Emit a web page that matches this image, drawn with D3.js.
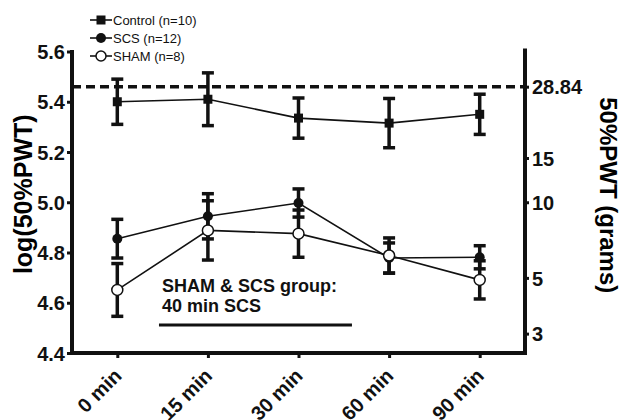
<!DOCTYPE html>
<html lang="en">

<head>
    <meta charset="UTF-8">
    <title>log(50%PWT) over time</title>
    <script src="https://cdn.jsdelivr.net/npm/d3@7"></script>
    <style>
        body {
            margin: 0;
            background: #fff;
        }

        svg {
            display: block;
            font-family: Arial, "Liberation Sans", sans-serif;
        }

        .axis text {
            font-size: 20px;
            font-weight: bold;
            fill: #111;
        }

        .axis path,
        .axis line {
            stroke: #111;
        }
    </style>
</head>

<body>
    <script>
        // data
        const times = ["0 min", "15 min", "30 min", "60 min", "90 min"];
        const control = [5.40, 5.41, 5.335, 5.315, 5.35];
        const controlErr = [0.09, 0.105, 0.08, 0.098, 0.08];
        const scs = [4.855, 4.944, 4.997, 4.778, 4.781];
        const scsErr = [0.077, 0.09, 0.056, 0.06, 0.046];
        const sham = [4.651, 4.888, 4.875, 4.788, 4.691];
        const shamErr = [0.105, 0.118, 0.094, 0.07, 0.076];
        const leftTicks = [4.4, 4.6, 4.8, 5.0, 5.2, 5.4, 5.6];
        const rightTicks = [3, 5, 10, 15, 28.84];
        const baseline = 28.84; // grams, dashed line
        const legendLabels = ["Control (n=10)", "SCS (n=12)", "SHAM (n=8)"];

        const width = 623, height = 420;
        const margin = { top: 51.5, right: 98, bottom: 67, left: 72 };

        const svg = d3.select("body")
            .append("svg")
            .attr("width", width)
            .attr("height", height);

        const xscale = d3.scalePoint()
            .domain(times)
            .range([margin.left, width - margin.right])
            .padding(0.5);

        const yscale = d3.scaleLinear()
            .domain([4.4, 5.6])
            .range([height - margin.bottom, margin.top]);

        // right axis is grams; left is log10(grams) + 4
        const yright = d3.scaleLog()
            .domain([Math.pow(10, 0.4), Math.pow(10, 1.6)])
            .range([height - margin.bottom, margin.top]);

        // fractional position along the time axis (for the SCS bar)
        const xidx = d3.scaleLinear()
            .domain([0, times.length - 1])
            .range([xscale(times[0]), xscale(times[times.length - 1])]);

        const x0 = margin.left, x1 = width - margin.right;
        const yb = height - margin.bottom;

        // axes
        const gl = svg.append("g")
            .attr("class", "axis")
            .attr("transform", `translate(${x0},0)`)
            .call(d3.axisLeft(yscale).tickValues(leftTicks).tickFormat(d3.format(".1f")).tickSize(5).tickPadding(2));
        gl.select(".domain").attr("d", `M0,${yscale(5.6) - 1.5}V${yb}`).attr("stroke-width", 4);
        gl.selectAll(".tick line").attr("stroke-width", 3);
        gl.selectAll(".tick text").attr("dy", "0.36em");

        const gr = svg.append("g")
            .attr("class", "axis")
            .attr("transform", `translate(${x1},0)`)
            .call(d3.axisRight(yright).tickValues(rightTicks).tickFormat(d => d).tickSize(4).tickPadding(3));
        gr.select(".domain").attr("d", `M0,${margin.top - 3}V${yb}`).attr("stroke-width", 4);
        gr.selectAll(".tick line").attr("stroke-width", 3);
        gr.selectAll(".tick text").attr("dy", "0.36em");

        const gb = svg.append("g")
            .attr("class", "axis")
            .attr("transform", `translate(0,${yb})`)
            .call(d3.axisBottom(xscale).tickSize(5).tickPadding(0));
        gb.select(".domain").attr("d", `M${x0 - 2},0H${x1 + 2}`).attr("stroke-width", 4);
        gb.selectAll(".tick line").attr("stroke-width", 3);
        gb.selectAll(".tick text")
            .attr("text-anchor", "end")
            .attr("transform", "translate(5,24) rotate(-45)")
            .attr("dy", "0")
            .attr("y", 0);

        // axis titles
        svg.append("text")
            .attr("transform", `translate(32,${(margin.top + yb) / 2 - 8}) rotate(-90)`)
            .attr("text-anchor", "middle")
            .style("font-size", "25px")
            .style("font-weight", "bold")
            .text("log(50%PWT)");

        svg.append("text")
            .attr("transform", `translate(600,${(margin.top + yb) / 2 - 7}) rotate(90)`)
            .attr("text-anchor", "middle")
            .style("font-size", "24px")
            .style("font-weight", "bold")
            .text("50%PWT (grams)");

        // dashed baseline
        svg.append("line")
            .attr("x1", x0).attr("x2", x1)
            .attr("y1", yright(baseline)).attr("y2", yright(baseline))
            .attr("stroke", "#111")
            .attr("stroke-width", 3.5)
            .attr("stroke-dasharray", "9,5");

        const groups = [
            { name: "control", vals: control, err: controlErr },
            { name: "scs", vals: scs, err: scsErr },
            { name: "sham", vals: sham, err: shamErr }
        ];

        // error bars
        groups.forEach(g => {
            const eb = svg.append("g").attr("stroke", "#111").attr("stroke-width", 3.5);
            g.vals.forEach((v, i) => {
                const cx = xscale(times[i]);
                const top = yscale(v + g.err[i]), bot = yscale(v - g.err[i]);
                eb.append("line").attr("x1", cx).attr("x2", cx).attr("y1", top).attr("y2", bot);
                eb.append("line").attr("x1", cx - 6).attr("x2", cx + 6).attr("y1", top).attr("y2", top);
                eb.append("line").attr("x1", cx - 6).attr("x2", cx + 6).attr("y1", bot).attr("y2", bot);
            });
        });

        // connecting lines
        const line = d3.line()
            .x((d, i) => xscale(times[i]))
            .y(d => yscale(d));

        groups.forEach(g => {
            svg.append("path")
                .datum(g.vals)
                .attr("d", line)
                .attr("fill", "none")
                .attr("stroke", "#111")
                .attr("stroke-width", 1.6);
        });

        // markers
        svg.selectAll(".sq")
            .data(control)
            .enter()
            .append("rect")
            .attr("x", (d, i) => xscale(times[i]) - 4.5)
            .attr("y", d => yscale(d) - 4.5)
            .attr("width", 9).attr("height", 9)
            .attr("fill", "#111");

        svg.selectAll(".dot")
            .data(scs)
            .enter()
            .append("circle")
            .attr("cx", (d, i) => xscale(times[i]))
            .attr("cy", d => yscale(d))
            .attr("r", 5)
            .attr("fill", "#111");

        svg.selectAll(".open")
            .data(sham)
            .enter()
            .append("circle")
            .attr("cx", (d, i) => xscale(times[i]))
            .attr("cy", d => yscale(d))
            .attr("r", 5.5)
            .attr("fill", "#fff")
            .attr("stroke", "#111")
            .attr("stroke-width", 1.5);

        // SCS period annotation
        svg.append("text")
            .attr("x", 162).attr("y", 292)
            .style("font-size", "18px").style("font-weight", "bold")
            .attr("fill", "#111")
            .text("SHAM & SCS group:");
        svg.append("text")
            .attr("x", 162).attr("y", 312)
            .style("font-size", "18px").style("font-weight", "bold")
            .attr("fill", "#111")
            .text("40 min SCS");
        svg.append("line")
            .attr("x1", xidx(0.46)).attr("x2", xidx(2.59))
            .attr("y1", 325).attr("y2", 325)
            .attr("stroke", "#111")
            .attr("stroke-width", 3);

        // legend
        const ly = [20, 38, 56];
        legendLabels.forEach((lab, i) => {
            svg.append("line")
                .attr("x1", 90).attr("x2", 112)
                .attr("y1", ly[i]).attr("y2", ly[i])
                .attr("stroke", "#111").attr("stroke-width", 1.6);
            if (i === 0) {
                svg.append("rect").attr("x", 96.5).attr("y", ly[i] - 4.5)
                    .attr("width", 9).attr("height", 9).attr("fill", "#111");
            } else if (i === 1) {
                svg.append("circle").attr("cx", 101).attr("cy", ly[i]).attr("r", 5).attr("fill", "#111");
            } else {
                svg.append("circle").attr("cx", 101).attr("cy", ly[i]).attr("r", 5)
                    .attr("fill", "#fff").attr("stroke", "#111").attr("stroke-width", 1.5);
            }
            svg.append("text")
                .attr("x", 113).attr("y", ly[i])
                .attr("dy", "0.35em")
                .style("font-size", "13px")
                .attr("fill", "#111")
                .text(lab);
        });
    </script>
</body>

</html>
